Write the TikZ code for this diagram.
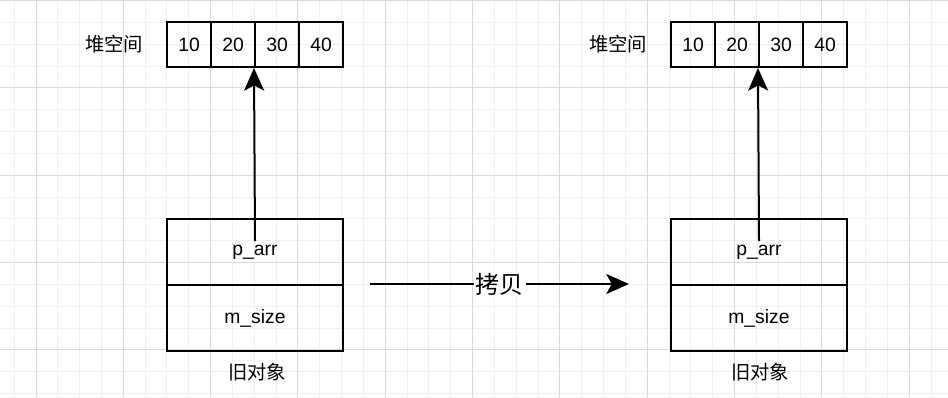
\documentclass[tikz,border=0pt]{standalone}
\usepackage{fontspec}
\setmainfont{Liberation Sans}
\newfontfamily\cjk{Noto Sans CJK SC}
\usetikzlibrary{arrows.meta}
\begin{document}
\begin{tikzpicture}[
    x=0.75pt, y=-0.75pt,
    font=\fontsize{14.5}{17}\selectfont,
    cell/.style={draw, line width=1.5pt, minimum width=33pt, minimum height=33.75pt, inner sep=0pt},
    field/.style={draw, line width=1.5pt, minimum width=132pt, minimum height=49.5pt, inner sep=0pt},
    lbl/.style={font=\fontsize{14.5}{17}\selectfont\cjk},
    link/.style={line width=1.5pt, -{Stealth[length=17pt, width=15pt, inset=4pt]}},
    gridminor/.style={draw=black!6, line width=0.75pt},
    gridmajor/.style={draw=black!14, line width=0.75pt}]

    \useasboundingbox (0,0) rectangle (948,397);
    \fill[white] (0,0) rectangle (948,397);
    \foreach \k in {0,...,42} \draw[gridminor] ({14.17+21.83*\k},0) -- ++(0,397);
    \foreach \k in {0,...,18} \draw[gridminor] (0,{0.66+21.83*\k}) -- ++(948,0);
    \foreach \k in {0,...,10} \draw[gridmajor] ({36+87.32*\k},0) -- ++(0,397);
    \foreach \k in {0,...,4} \draw[gridmajor] (0,{0.66+87.32*\k}) -- ++(948,0);

    \node[lbl] (heapl) at (114,44.5) {堆空间};
    \foreach \v [count=\i] in {10,20,30,40}
        \node[cell] (l\i) at ({145+44*\i},44.5) {\v};
    \node[field] (lparr) at (255,252) {p\_arr};
    \node[field] (lsize) at (255,318) {m\_size};
    \node[lbl] (lold) at (257,372) {旧对象};

    \node[lbl] (heapr) at (618,44.5) {堆空间};
    \foreach \v [count=\i] in {10,20,30,40}
        \node[cell] (r\i) at ({649+44*\i},44.5) {\v};
    \node[field] (rparr) at (759,252) {p\_arr};
    \node[field] (rsize) at (759,318) {m\_size};
    \node[lbl] (rold) at (760,372) {旧对象};

    \coordinate (lstart) at (255,241);
    \coordinate (rstart) at (759,241);
    \draw[link] (lstart) -- (l3.south west);
    \draw[link] (rstart) -- (r3.south west);
    \draw[link] ([xshift=19.5pt]lsize.north east) -- node[fill=white, inner sep=1.5pt, font=\fontsize{18}{20}\selectfont\cjk] {拷贝} ([xshift=-30.75pt]rsize.north west);
\end{tikzpicture}
\end{document}
